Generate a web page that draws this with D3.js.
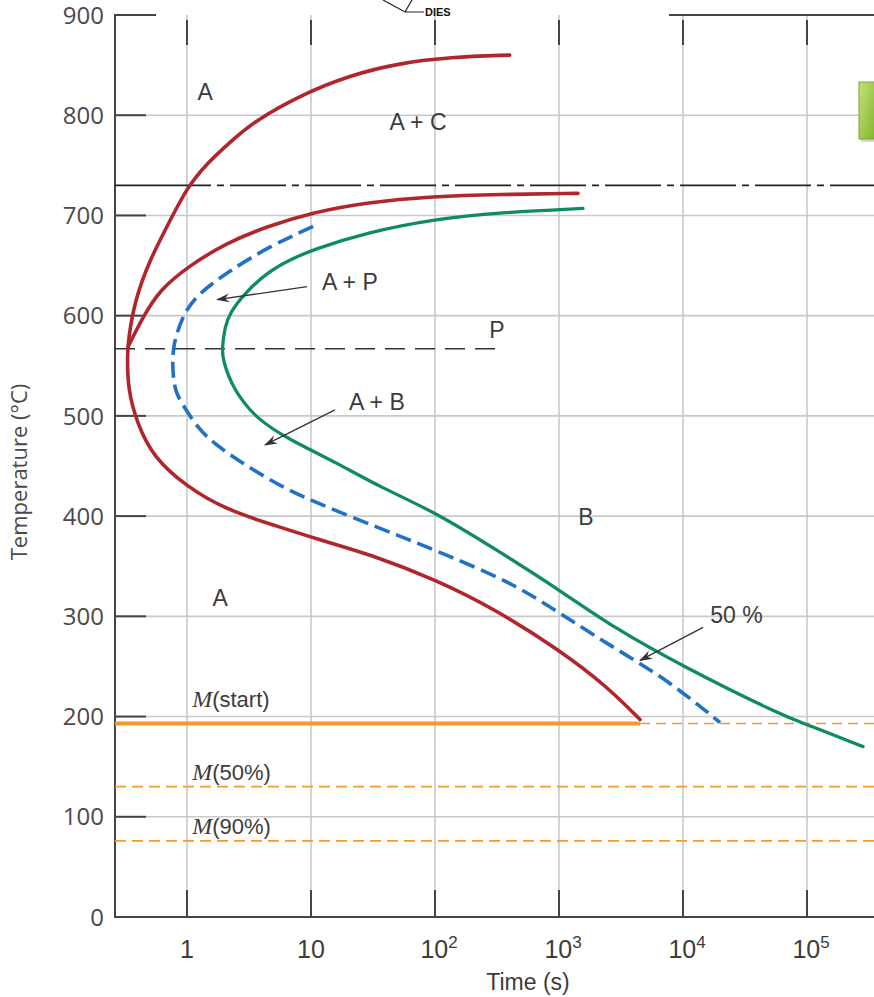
<!DOCTYPE html>
<html><head><meta charset="utf-8">
<script src="https://cdn.jsdelivr.net/npm/d3@7"></script>
<style>
body{margin:0;background:#fff;}
svg{display:block;}
.nar{font-family:"Liberation Sans Narrow","Arial Narrow","Liberation Sans",sans-serif;fill:#3c3c3c;}
</style></head><body>
<svg id="c" width="874" height="997"></svg>
<script>
// ---- data (time in s, temperature in °C) ----
const yTicks = [0,100,200,300,400,500,600,700,800,900];
const xTicks = [1,10,100,1000,10000,100000];
const xTickLabels = [["1",""],["10",""],["10","2"],["10","3"],["10","4"],["10","5"]];
const eutectoidT = 730;
const pLineT = 567, pLineEnd = 340;
const mStartT = 193, m50T = 130, m90T = 76;
const mStartEnd = 4500;
// red: cementite-start (top) -> nose -> lower start branch
const redOuterT = [400,860, 132,858, 52,852, 20.6,840, 8.2,820, 3.6,795, 2.3,775, 1.45,752, 1.0,728, 0.69,689, 0.503,656, 0.38,616, 0.335,575, 0.33,559, 0.334,526, 0.395,493, 0.532,459, 1.0,429, 2.1,406, 5.3,390, 11.2,377, 29.9,362, 104,336, 316,306, 1018,266, 2440,230, 4500,197];
// red: pearlite start branch
const redInner = [0.335,569, 0.442,599, 0.606,626, 1.02,649, 2.10,673, 4.42,689, 10.4,703, 28.3,713, 96,719, 334,721, 1422,722];
// blue dashed: 50% completion
const blue50 = [10.4,689, 4.42,668, 2.10,643, 1.27,623, 0.946,604, 0.757,569, 0.77,543, 0.80,523, 1.02,503, 1.35,480, 2.75,453, 6.4,426, 13.5,409, 34,389, 63,376, 125,361, 426,333, 1018,303, 2725,269, 7430,237, 19900,194];
// green: end of transformation
const greenEnd = [1560,707, 334,703, 96,696, 28.3,683, 10.4,666, 6.8,656, 4.42,643, 2.9,622, 2.22,603, 2.02,589, 1.91,566, 1.95,556, 2.31,528, 3.67,496, 6.8,476, 16.2,453, 36,429, 104,403, 316,366, 1018,326, 2725,289, 10000,250, 60500,202, 100000,192, 283000,170];
const labels = [
 {t:1.4,T:823,s:"A"},{t:73,T:794,s:"A + C"},{t:20.6,T:634,s:"A + P"},{t:316,T:586,s:"P"},
 {t:34,T:514,s:"A + B"},{t:1650,T:399,s:"B"},{t:1.85,T:319,s:"A"},{t:27000,T:302,s:"50 %"}];
const mLabels = [{t:1.1,T:217,s:"(start)"},{t:1.1,T:145,s:"(50%)"},{t:1.1,T:91,s:"(90%)"}];
const arrows = [[9.3,629,1.75,616],[15.6,506,4.26,471],[14500,289,4500,256]];

const toPts = a => { const r=[]; for(let i=0;i<a.length;i+=2) r.push([a[i],a[i+1]]); return r; };

const svg = d3.select("#c");
const x = d3.scaleLog().domain([0.2626, 346800]).range([115, 874]);
const y = d3.scaleLinear().domain([0, 900]).range([917, 15]);
const grid = "#c9c9c9", dark = "#444";

// defs
const defs = svg.append("defs");
defs.append("marker").attr("id","ah").attr("viewBox","0 0 12 8").attr("refX",11).attr("refY",4)
 .attr("markerWidth",14).attr("markerHeight",9).attr("markerUnits","userSpaceOnUse").attr("orient","auto")
 .append("path").attr("d","M0,0 L12,4 L0,8 L4,4 Z").attr("fill","#333");
const lg = defs.append("linearGradient").attr("id","gb").attr("x1",0).attr("x2",1).attr("y1",0).attr("y2",1);
lg.append("stop").attr("offset","0").attr("stop-color","#c3e27a");
lg.append("stop").attr("offset","1").attr("stop-color","#86b52a");

// grid
svg.append("g").selectAll("line").data(xTicks).join("line")
 .attr("x1",d=>x(d)).attr("x2",d=>x(d)).attr("y1",y(900)).attr("y2",y(0))
 .attr("stroke",grid).attr("stroke-width",1.6);
svg.append("g").selectAll("line").data(yTicks.filter(d=>d>0&&d<900)).join("line")
 .attr("x1",115).attr("x2",874).attr("y1",d=>y(d)).attr("y2",d=>y(d))
 .attr("stroke",grid).attr("stroke-width",1.6);

// axis ticks
svg.append("g").selectAll("line").data(yTicks.filter(d=>d>0&&d<900)).join("line")
 .attr("x1",115).attr("x2",146).attr("y1",d=>y(d)).attr("y2",d=>y(d)).attr("stroke",dark).attr("stroke-width",2);
svg.append("g").selectAll("line").data(xTicks).join("line")
 .attr("x1",d=>x(d)).attr("x2",d=>x(d)).attr("y1",y(0)).attr("y2",y(0)-27).attr("stroke",dark).attr("stroke-width",2);
svg.append("g").selectAll("line").data(xTicks).join("line")
 .attr("x1",d=>x(d)).attr("x2",d=>x(d)).attr("y1",y(900)+5).attr("y2",y(900)+30).attr("stroke",dark).attr("stroke-width",2);

// axis frame
svg.append("line").attr("x1",115).attr("x2",115).attr("y1",y(900)).attr("y2",y(0)).attr("stroke",dark).attr("stroke-width",2);
svg.append("line").attr("x1",114).attr("x2",874).attr("y1",y(0)).attr("y2",y(0)).attr("stroke",dark).attr("stroke-width",2);
svg.append("line").attr("x1",114).attr("x2",156).attr("y1",y(900)).attr("y2",y(900)).attr("stroke",dark).attr("stroke-width",2);
svg.append("line").attr("x1",669).attr("x2",874).attr("y1",y(900)).attr("y2",y(900)).attr("stroke",dark).attr("stroke-width",2);

// tick labels
svg.append("g").selectAll("text").data(yTicks).join("text")
 .attr("x",104).attr("y",d=>y(d)).attr("dy","0.36em").attr("text-anchor","end")
 .style("font-family","'Open Sans',sans-serif").style("font-size","24px").attr("fill","#4a4a4a").text(d=>d);
const xl = svg.append("g").selectAll("text").data(xTicks).join("text").attr("class","nar")
 .attr("x",(d,i)=>x(d)+(xTickLabels[i][1]?4:0)).attr("y",958).attr("text-anchor","middle")
 .style("font-size","25px");
xl.append("tspan").text((d,i)=>xTickLabels[i][0]);
xl.append("tspan").attr("dy","-10").style("font-size","17px").text((d,i)=>xTickLabels[i][1]);

svg.append("text").attr("class","nar").attr("x",528).attr("y",990).attr("text-anchor","middle")
 .style("font-size","23px").text("Time (s)");
svg.append("text").attr("transform","translate(27,472) rotate(-90)").attr("text-anchor","middle")
 .style("font-family","'Open Sans',sans-serif").style("font-size","22px").attr("fill","#4a4a4a").text("Temperature (°C)");

// reference lines
svg.append("line").attr("x1",115).attr("x2",155).attr("y1",y(eutectoidT)).attr("y2",y(eutectoidT)).attr("stroke","#222").attr("stroke-width",1.6);
svg.append("line").attr("x1",155).attr("x2",874).attr("y1",y(eutectoidT)).attr("y2",y(eutectoidT))
 .attr("stroke","#222").attr("stroke-width",1.6).attr("stroke-dasharray","56 6 7 6");
svg.append("line").attr("x1",115).attr("x2",x(pLineEnd)).attr("y1",y(pLineT)).attr("y2",y(pLineT))
 .attr("stroke","#333").attr("stroke-width",1.6).attr("stroke-dasharray","20 10");

const orange = "#f39a2a";
svg.append("line").attr("x1",x(mStartEnd)).attr("x2",874).attr("y1",y(mStartT)).attr("y2",y(mStartT))
 .attr("stroke",orange).attr("stroke-width",1.6).attr("stroke-dasharray","10 6");
[m50T,m90T].forEach(T=>svg.append("line").attr("x1",115).attr("x2",874).attr("y1",y(T)).attr("y2",y(T))
 .attr("stroke",orange).attr("stroke-width",1.8).attr("stroke-dasharray","11 6"));

// curves
const line = d3.line().x(d=>x(d[0])).y(d=>y(d[1])).curve(d3.curveBasis);
svg.append("path").attr("d",line(toPts(redOuterT))).attr("fill","none").attr("stroke","#b0262c").attr("stroke-width",3.6).attr("stroke-linecap","round");
svg.append("path").attr("d",line(toPts(redInner))).attr("fill","none").attr("stroke","#b0262c").attr("stroke-width",3.6).attr("stroke-linecap","round");
svg.append("path").attr("d",line(toPts(blue50))).attr("fill","none").attr("stroke","#1f72c6").attr("stroke-width",3.6).attr("stroke-dasharray","16 7");
svg.append("path").attr("d",line(toPts(greenEnd))).attr("fill","none").attr("stroke","#0f8c5e").attr("stroke-width",3.3).attr("stroke-linecap","round");

svg.append("line").attr("x1",115).attr("x2",x(mStartEnd)).attr("y1",y(mStartT)).attr("y2",y(mStartT))
 .attr("stroke",orange).attr("stroke-width",4);

// arrows
svg.append("g").selectAll("line").data(arrows).join("line")
 .attr("x1",d=>x(d[0])).attr("y1",d=>y(d[1])).attr("x2",d=>x(d[2])).attr("y2",d=>y(d[3]))
 .attr("stroke","#333").attr("stroke-width",1.3).attr("marker-end","url(#ah)");

// labels
svg.append("g").selectAll("text").data(labels).join("text").attr("class","nar")
 .attr("x",d=>x(d.t)).attr("y",d=>y(d.T)).attr("dy","0.36em").attr("text-anchor","middle")
 .style("font-size","23px").text(d=>d.s);
const ml = svg.append("g").selectAll("text").data(mLabels).join("text").attr("class","nar")
 .attr("x",d=>x(d.t)).attr("y",d=>y(d.T)).attr("dy","0.36em").style("font-size","22px");
ml.append("tspan").style("font-family","'Liberation Serif',serif").style("font-style","italic").style("font-size","24px").text("M");
ml.append("tspan").text(d=>d.s);

// top "DIES" callout and side tab (decorations)
svg.append("path").attr("d","M383,0 L405,12 L424,12 M412,0 L405,12").attr("fill","none").attr("stroke","#222").attr("stroke-width",1.2);
svg.append("text").attr("x",425).attr("y",16).style("font-family","'Liberation Sans',sans-serif").style("font-weight","bold")
 .style("font-size","11px").attr("fill","#111").text("DIES");
svg.append("rect").attr("x",861).attr("y",85).attr("width",16).attr("height",57).attr("fill","#bbb").attr("opacity",0.6);
svg.append("rect").attr("x",859).attr("y",82).attr("width",16).attr("height",57).attr("fill","url(#gb)").attr("stroke","#7aa52a").attr("stroke-width",1);
</script></body></html>
